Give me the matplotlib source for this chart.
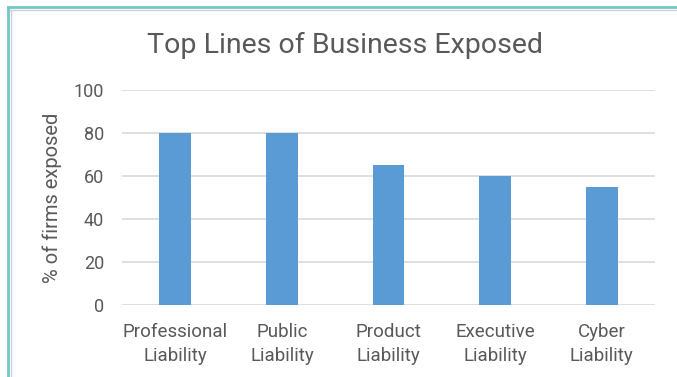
import matplotlib
matplotlib.use("Agg")
import matplotlib.pyplot as plt
from matplotlib.lines import Line2D

categories = ["Professional\nLiability", "Public\nLiability", "Product\nLiability",
              "Executive\nLiability", "Cyber\nLiability"]
values = [80, 80, 65, 60, 55]
yticks = [0, 20, 40, 60, 80, 100]

plt.rcParams['font.family'] = ['Roboto', 'DejaVu Sans']
txt = "#595959"

fig = plt.figure(figsize=(6.77, 3.77), dpi=100)
ax = fig.add_axes([122/677, 1 - 305/377, (655-122)/677, (305-90)/377])
x = list(range(len(categories)))
ax.bar(x, values, width=0.3, color="#5B9BD5", zorder=3)
ax.set_xlim(-0.5, len(categories) - 0.5)
ax.set_ylim(0, 100)
ax.set_yticks(yticks)
ax.set_xticks(x)
ax.set_xticklabels(categories, fontsize=13.5, color=txt, linespacing=1.45)
ax.tick_params(axis='y', labelsize=13, colors=txt, length=0, pad=13)
ax.tick_params(axis='x', length=0, pad=13)
ax.grid(axis='y', color="#D9D9D9", linewidth=1.2, zorder=0)
for s in ax.spines.values():
    s.set_visible(False)
ax.set_ylabel("% of firms exposed", fontsize=14.5, color=txt)
ax.yaxis.set_label_coords(-60/533, 0.5)
fig.text(345/677, 1 - 45/377, "Top Lines of Business Exposed", fontsize=20.5,
         color=txt, ha='center', va='center')

# frame lines
fig.add_artist(Line2D([8/677, 1], [1 - 7/377, 1 - 7/377], color="#70C8C8", lw=2, transform=fig.transFigure))
fig.add_artist(Line2D([8/677, 8/677], [0, 1 - 7/377], color="#70C8C8", lw=2, transform=fig.transFigure))
fig.add_artist(Line2D([10/677, 1], [1 - 9.5/377, 1 - 9.5/377], color="#D0D0D0", lw=1, transform=fig.transFigure))
fig.add_artist(Line2D([10.5/677, 10.5/677], [0, 1 - 9.5/377], color="#D0D0D0", lw=1, transform=fig.transFigure))

fig.savefig("out.png", dpi=100)
